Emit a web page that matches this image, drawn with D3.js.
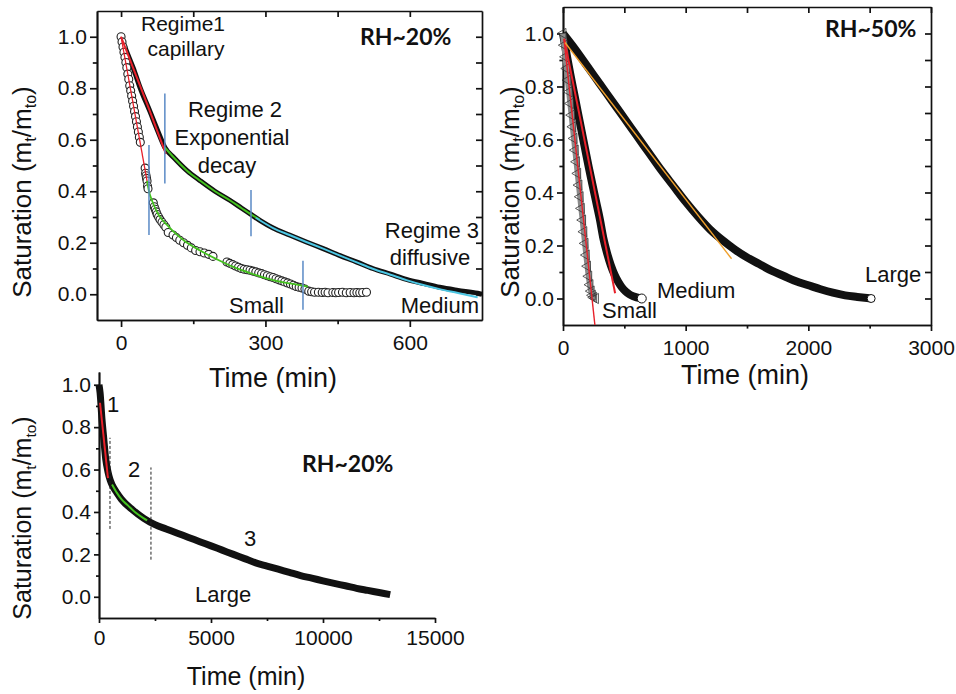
<!DOCTYPE html>
<html lang="en"><head>
<meta charset="utf-8">
<title>Saturation vs time</title>
<script src="https://cdnjs.cloudflare.com/ajax/libs/d3/7.8.5/d3.min.js"></script>
<style>
  body { margin: 0; background: #fff; }
  svg text { font-family: "Liberation Sans", Arial, sans-serif; fill: #111; }
  .rh { font-family: Lato, "Liberation Sans", sans-serif; font-weight: 700; }
  .axes path, .axes line { stroke: #111; stroke-width: 1.7; }
</style>
</head>
<body>
<svg id="chart" width="956" height="694"></svg>
<script>
// ---------- panel A : RH~20%, small + medium ----------
const smallA_t = [0,2,4,6,8,10,12,14,16,18,20,22,24,26,28,30,32,34,36,38,40,
  50,51,52,53,54,55,56,
  67,69,71,73,75,78,81,85,89,93,98,108,115,122,130,138,146,155,164,173,182,191,
  220,226,232,238,244,250,256,262,268,274,280,286,292,298,304,310,316,322,328,334,340,346,352,358,364,370,376,382,
  390,396,402,410,418,424,430,440,446,452,460,468,476,484,490,496,502,510];
const smallA_s = [1.0,0.98,0.96,0.94,0.92,0.90,0.88,0.855,0.835,0.81,0.79,0.77,0.75,0.73,0.71,0.69,0.67,0.65,0.63,0.61,0.59,
  0.49,0.47,0.46,0.45,0.44,0.42,0.41,
  0.355,0.34,0.33,0.32,0.31,0.30,0.29,0.28,0.27,0.26,0.24,0.23,0.22,0.21,0.20,0.19,0.18,0.17,0.165,0.16,0.155,0.147,
  0.125,0.12,0.115,0.11,0.105,0.10,0.097,0.095,0.093,0.09,0.087,0.083,0.08,0.076,0.072,0.068,0.065,0.06,0.056,0.052,0.048,0.044,0.04,0.035,0.03,0.027,0.024,0.02,
  0.012,0.01,0.008,0.008,0.007,0.008,0.006,0.007,0.006,0.007,0.008,0.006,0.007,0.006,0.007,0.006,0.007,0.008];

const medA_t = [0,10,25,40,60,75,91,110,137,165,195,226,250,270,290,316,350,385,420,455,490,523,560,593,630,662,700,741,750];
const medA_s = [1.0,0.95,0.88,0.80,0.71,0.64,0.57,0.53,0.48,0.44,0.40,0.365,0.335,0.31,0.285,0.257,0.23,0.203,0.177,0.150,0.125,0.100,0.078,0.058,0.041,0.027,0.015,0.004,0.0];

const redSmallA_t = [0,55], redSmallA_s = [1.0,0.43];
const redMedA_t = [0,30,60,93], redMedA_s = [1.0,0.855,0.71,0.545];
const greenSmallA_t = [54,58,65,72,81,95,108,130,164,200,232,268,316,350,388];
const greenSmallA_s = [0.44,0.40,0.36,0.33,0.30,0.27,0.245,0.21,0.17,0.135,0.107,0.082,0.055,0.042,0.03];
const greenMedA_t = [91,110,137,165,195,226,250,270,288];
const greenMedA_s = [0.57,0.53,0.48,0.44,0.40,0.365,0.335,0.31,0.29];
const cyanMedA_t = [280,316,350,385,420,455,490,523,560,593,630,662,700,741];
const cyanMedA_s = [0.297,0.257,0.23,0.203,0.177,0.150,0.124,0.099,0.076,0.055,0.035,0.020,0.005,-0.012];
// regime boundaries: time, low, high
const markA_t = [58,91,270,378];
const markA_lo = [0.23,0.43,0.225,-0.06];
const markA_hi = [0.58,0.78,0.405,0.13];

// ---------- panel B : RH~50%, small / medium / large ----------
const smallB_t = [0,10,20,30,40,50,60,70,80,90,100,110,120,130,140,150,160,170,180,190,200,210,220,230,240,250,265];
const smallB_s = [1.0,0.956,0.912,0.868,0.824,0.78,0.736,0.692,0.648,0.604,0.56,0.516,0.472,0.428,0.384,0.34,0.296,0.252,0.208,0.164,0.122,0.084,0.052,0.028,0.012,0.004,0.0];
const medB_t = [0,30,60,90,120,150,180,210,240,270,300,330,360,390,420,450,480,510,540,570,600,642];
const medB_s = [1.0,0.92,0.845,0.775,0.705,0.635,0.565,0.495,0.43,0.365,0.30,0.225,0.17,0.125,0.09,0.063,0.042,0.027,0.016,0.009,0.004,0.0];
const largeB_t = [0,100,200,300,400,500,600,700,800,900,1000,1100,1200,1300,1400,1500,1600,1700,1800,1900,2000,2100,2200,2300,2400,2512];
const largeB_s = [1.0,0.94,0.875,0.81,0.745,0.68,0.615,0.55,0.485,0.425,0.365,0.31,0.26,0.22,0.185,0.155,0.13,0.105,0.085,0.065,0.05,0.035,0.022,0.012,0.006,0.0];
const redSmallB_t = [8,260], redSmallB_s = [0.98,-0.1];
const redMedB_t = [10,425], redMedB_s = [0.98,0.02];
const orangeLargeB_t = [16,1374], orangeLargeB_s = [0.966,0.15];

// ---------- panel C : RH~20%, large ----------
const largeC_t = [0,50,130,200,300,400,500,600,800,1000,1500,2000,2500,3000,3500,4000,4500,5000,5500,6000,6500,7000,7500,8000,8500,9000,9500,10000,10500,11000,11500,12000,12500,13000];
const largeC_s = [1.0,0.96,0.84,0.76,0.65,0.59,0.55,0.525,0.49,0.46,0.41,0.37,0.34,0.32,0.30,0.28,0.26,0.24,0.22,0.20,0.18,0.16,0.145,0.13,0.115,0.10,0.088,0.075,0.063,0.052,0.04,0.03,0.02,0.01];
const redC_t = [45,400], redC_s = [0.915,0.56];
const greenC_t = [580,800,1000,1300,1600,2000,2150], greenC_s = [0.53,0.49,0.46,0.43,0.40,0.37,0.36];
const markC_t = [491,2320], markC_lo = [0.32,0.175], markC_hi = [0.75,0.61];

const zip = (t, s) => t.map((d, i) => [d, s[i]]);
const svg = d3.select("#chart");

function axes(x, y, o) {
  const g = svg.append("g").attr("class", "axes");
  const [y0, y1] = y.range(), [x0, x1] = x.range();
  g.append("g").attr("transform", `translate(0,${y0})`)
    .call(d3.axisBottom(x).tickValues(o.xt).tickSize(o.tl).tickSizeOuter(0).tickPadding(o.xp).tickFormat(d3.format("d")));
  g.append("g").attr("transform", `translate(0,${y0})`)
    .call(d3.axisBottom(x).tickValues(o.xm).tickSize(o.tl * 0.6).tickSizeOuter(0).tickFormat(""));
  g.append("g").attr("transform", `translate(${x0},0)`)
    .call(d3.axisLeft(y).tickValues([0,0.2,0.4,0.6,0.8,1.0]).tickSize(o.tl).tickSizeOuter(0).tickPadding(3).tickFormat(d3.format(".1f")));
  g.append("g").attr("transform", `translate(${x0},0)`)
    .call(d3.axisLeft(y).tickValues([0.1,0.3,0.5,0.7,0.9]).tickSize(o.tl * 0.6).tickSizeOuter(0).tickFormat(""));
  if (o.box) {
    g.append("g").attr("transform", `translate(0,${y1})`)
      .call(d3.axisTop(x).tickValues(o.xt.concat(o.xm)).tickSize(-6).tickSizeOuter(0).tickFormat(""));
    g.append("g").attr("transform", `translate(${x1},0)`)
      .call(d3.axisRight(y).tickValues([0,0.1,0.2,0.3,0.4,0.5,0.6,0.7,0.8,0.9,1.0]).tickSize(-6).tickSizeOuter(0).tickFormat(""));
  }
  g.selectAll("text").attr("font-size", 21).attr("font-family", "Liberation Sans, Arial, sans-serif");
}

function line(x, y, t, s, color, w, curve) {
  svg.append("path")
    .datum(zip(t, s))
    .attr("fill", "none")
    .attr("stroke", color)
    .attr("stroke-width", w)
    .attr("stroke-linejoin", "round")
    .attr("d", d3.line().x(d => x(d[0])).y(d => y(d[1])).curve(curve || d3.curveLinear));
}

function label(txt, px, py, size, anchor, cls) {
  svg.append("text").attr("x", px).attr("y", py)
    .attr("font-size", size).attr("text-anchor", anchor || "start")
    .attr("class", cls || null).text(txt);
}

function ytitle(px, py, size) {
  const t = svg.append("text")
    .attr("transform", `translate(${px},${py}) rotate(-90)`)
    .attr("text-anchor", "middle").attr("font-size", size);
  t.append("tspan").text("Saturation (m");
  t.append("tspan").attr("font-size", "0.62em").attr("dy", "0.3em").text("t");
  t.append("tspan").attr("dy", "-0.18em").text("/m");
  t.append("tspan").attr("font-size", "0.62em").attr("dy", "0.3em").text("to");
  t.append("tspan").attr("dy", "-0.18em").text(")");
}

// ===== panel A =====
const xA = d3.scaleLinear([-50, 750], [97, 482]);
const yA = d3.scaleLinear([-0.1, 1.1], [320, 11]);
axes(xA, yA, {xt: [0,300,600], xm: [150,450], tl: 7, xp: 8, box: true});

line(xA, yA, medA_t, medA_s, "#111", 5, d3.curveMonotoneX);
svg.append("g").selectAll("circle")
  .data(zip(smallA_t, smallA_s)).enter()
  .append("circle")
  .attr("cx", d => xA(d[0])).attr("cy", d => yA(d[1])).attr("r", 4)
  .attr("fill", "#fff").attr("stroke", "#222").attr("stroke-width", 1.1);

line(xA, yA, redSmallA_t, redSmallA_s, "#e8202a", 1.3);
line(xA, yA, redMedA_t, redMedA_s, "#e8202a", 2, d3.curveMonotoneX);
line(xA, yA, greenSmallA_t, greenSmallA_s, "#44c21f", 1.8, d3.curveMonotoneX);
line(xA, yA, greenMedA_t, greenMedA_s, "#44c21f", 2, d3.curveMonotoneX);
line(xA, yA, cyanMedA_t, cyanMedA_s, "#4cc6e3", 2, d3.curveMonotoneX);
svg.append("g").selectAll("line")
  .data(markA_t).enter().append("line")
  .attr("x1", d => xA(d)).attr("x2", d => xA(d))
  .attr("y1", (d, i) => yA(markA_lo[i])).attr("y2", (d, i) => yA(markA_hi[i]))
  .attr("stroke", "#5a8ac6").attr("stroke-width", 1.5);

label("Regime1", 183, 31, 21, "middle");
label("capillary", 186, 56, 21, "middle");
label("Regime 2", 235, 117, 22, "middle");
label("Exponential", 232, 145, 22, "middle");
label("decay", 227, 173, 22, "middle");
label("Regime 3", 479, 238, 22, "end");
label("diffusive", 430, 265, 22, "middle");
label("Small", 229, 313, 22);
label("Medium", 479, 313, 22, "end");
label("RH~20%", 360, 45, 23, "start", "rh");
label("Time (min)", 273, 387, 27, "middle");
ytitle(31, 192, 26);

// ===== panel B =====
const xB = d3.scaleLinear([0, 3000], [563, 931]);
const yB = d3.scaleLinear([-0.1, 1.1], [325, 7]);
axes(xB, yB, {xt: [0,1000,2000,3000], xm: [500,1500,2500], tl: 6, xp: 9, box: true});

line(xB, yB, largeB_t, largeB_s, "#111", 8, d3.curveMonotoneX);
line(xB, yB, medB_t, medB_s, "#111", 8, d3.curveMonotoneX);
line(xB, yB, smallB_t, smallB_s, "#8a8a8a", 6, d3.curveMonotoneX);
svg.append("g").selectAll("path")
  .data(zip(smallB_t, smallB_s)).enter()
  .append("path")
  .attr("d", d3.symbol(d3.symbolTriangle, 45))
  .attr("transform", d => `translate(${xB(d[0])},${yB(d[1])}) rotate(-90)`)
  .attr("fill", "none").attr("stroke", "#333").attr("stroke-width", 0.8);
svg.append("circle").attr("cx", xB(medB_t[medB_t.length - 1])).attr("cy", yB(0)).attr("r", 4.5)
  .attr("fill", "#fff").attr("stroke", "#111").attr("stroke-width", 1);
svg.append("circle").attr("cx", xB(largeB_t[largeB_t.length - 1])).attr("cy", yB(0)).attr("r", 4)
  .attr("fill", "#fff").attr("stroke", "#111").attr("stroke-width", 1);

line(xB, yB, redSmallB_t, redSmallB_s, "#e8202a", 1.4);
line(xB, yB, redMedB_t, redMedB_s, "#e8202a", 2);
line(xB, yB, orangeLargeB_t, orangeLargeB_s, "#f0a02c", 1.4);

label("RH~50%", 825, 37, 23, "start", "rh");
label("Medium", 657, 298, 22);
label("Small", 602, 318, 22);
label("Large", 865, 282, 22);
label("Time (min)", 745, 384, 27, "middle");
ytitle(519, 192, 26);

// ===== panel C =====
const xC = d3.scaleLinear([0, 15000], [99, 435]);
const yC = d3.scaleLinear([-0.1, 1.06], [618, 372]);
axes(xC, yC, {xt: [0,5000,10000,15000], xm: [2500,7500,12500], tl: 5, xp: 7, box: false});

line(xC, yC, largeC_t, largeC_s, "#111", 7, d3.curveMonotoneX);
line(xC, yC, redC_t, redC_s, "#e8202a", 2);
line(xC, yC, greenC_t, greenC_s, "#44c21f", 2, d3.curveMonotoneX);
svg.append("g").selectAll("line")
  .data(markC_t).enter().append("line")
  .attr("x1", d => xC(d)).attr("x2", d => xC(d))
  .attr("y1", (d, i) => yC(markC_lo[i])).attr("y2", (d, i) => yC(markC_hi[i]))
  .attr("stroke", "#222").attr("stroke-width", 1).attr("stroke-dasharray", "3,2");

label("1", 107, 412, 22);
label("2", 128, 477, 22);
label("3", 244, 546, 22);
label("Large", 195, 602, 22);
label("RH~20%", 302, 472, 23, "start", "rh");
label("Time (min)", 246, 685, 25, "middle");
ytitle(31, 518, 25);
</script>
</body>
</html>
